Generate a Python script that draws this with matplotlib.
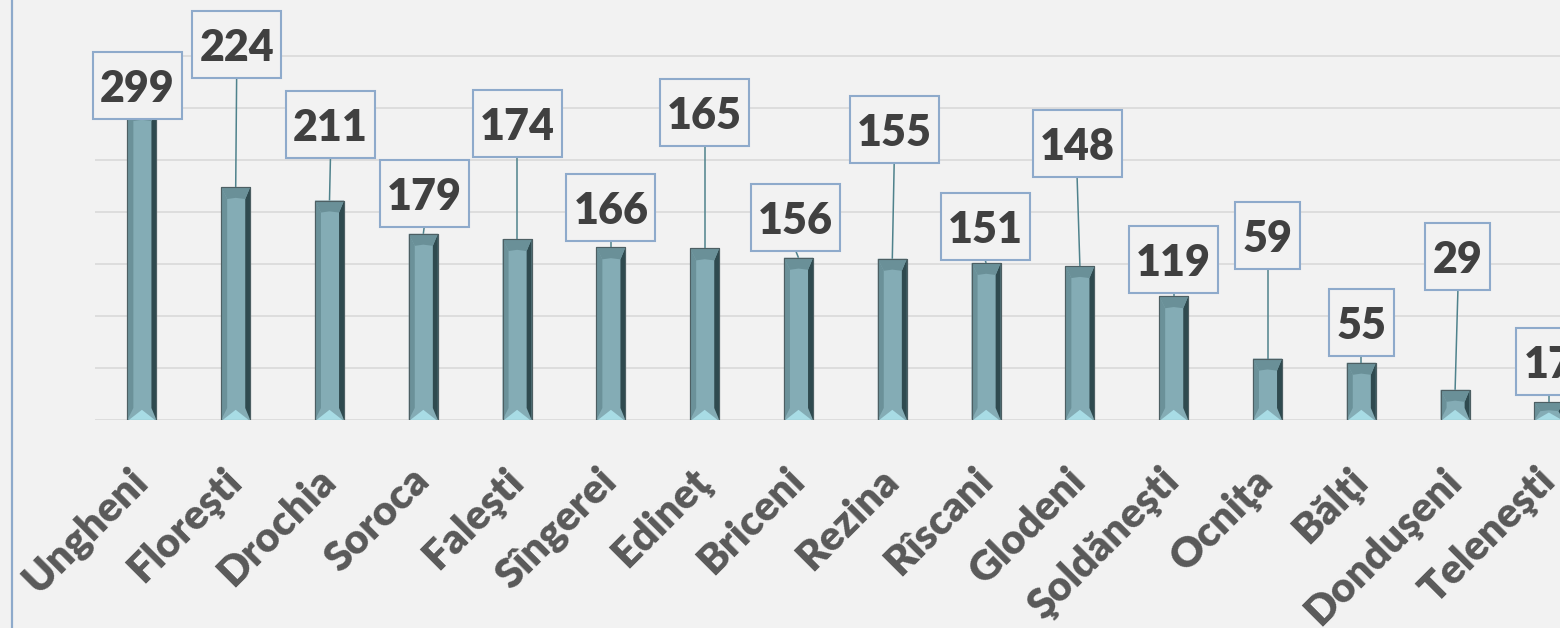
import matplotlib
matplotlib.use("Agg")
import matplotlib.pyplot as plt
from matplotlib.patches import Polygon, Rectangle
from matplotlib.lines import Line2D
from matplotlib.transforms import ScaledTranslation

# --- data ---
districts = ["Ungheni", "Floreşti", "Drochia", "Soroca", "Faleşti", "Sîngerei",
             "Edineţ", "Briceni", "Rezina", "Rîscani", "Glodeni", "Şoldăneşti",
             "Ocniţa", "Bălţi", "Donduşeni", "Teleneşti"]
values = [299, 224, 211, 179, 174, 166, 165, 156, 155, 151, 148, 119, 59, 55, 29, 17]

# callout placement (data units), kept apart from the values
label_y = [322, 361, 284, 218, 285, 204, 296, 195, 279, 186, 266, 154, 177, 94, 157, 56]
label_dx = [-0.05, 0.01, 0.01, 0.01, 0, 0, 0, -0.03, 0.02, -0.01, -0.03, 0, 0, 0, 0.03, 0]

BG = "#f2f2f2"
W, H, DPI = 15.6, 6.28, 100
plt.rcParams["font.family"] = ["Lato", "DejaVu Sans"]

fig = plt.figure(figsize=(W, H), dpi=DPI, facecolor=BG)
ax_box = [95 / 1560, 208 / 628, 1465 / 1560, 416 / 628]
ax = fig.add_axes(ax_box, facecolor=BG)

xlim = (-0.5, -0.5 + 1465 / 93.8)
ylim = (0, 400)
ax.set_xlim(*xlim)
ax.set_ylim(*ylim)

# pixels per data unit, from the axes layout
ppx = ax_box[2] * W * DPI / (xlim[1] - xlim[0])
ppy = ax_box[3] * H * DPI / (ylim[1] - ylim[0])

# gridlines
ax.set_yticks(range(0, 351, 50))
ax.yaxis.grid(True, color="#d9d9d9", lw=1.2)
ax.set_axisbelow(True)
ax.tick_params(axis="y", left=False, labelleft=False)
ax.tick_params(axis="x", bottom=False, pad=26)
for s in ax.spines.values():
    s.set_visible(False)

# bars with a bevelled look
bw = 0.31
bars = ax.bar(range(len(values)), values, width=bw, color="#84acb5",
              edgecolor="#4d5f63", linewidth=0.8, zorder=2)
for b in bars:
    x0, x1, h = b.get_x(), b.get_x() + b.get_width(), b.get_height()
    xc = (x0 + x1) / 2
    s = 6 / ppx
    sr = 5 / ppx
    hp = h * ppy
    tri = min(12, hp / 2) / ppy
    # left / right strips
    ax.add_patch(Polygon([(x0, 0), (x0 + s, tri), (x0 + s, h - tri), (x0, h)],
                         closed=True, fc="#6b9199", ec="none", zorder=3))
    ax.add_patch(Polygon([(x1, 0), (x1 - sr, tri), (x1 - sr, h - tri), (x1, h)],
                         closed=True, fc="#2f4a4f", ec="none", zorder=3))
    # top and bottom facets
    ax.add_patch(Polygon([(x0, h), (x1, h), (x1 - sr, h - tri), (xc, h - tri * 0.9),
                          (x0 + s, h - tri)],
                         closed=True, fc="#6a9098", ec="none", zorder=3))
    ax.add_patch(Polygon([(x0 + 1.5 / ppx, 0), (x1 - 1.5 / ppx, 0), (xc, tri * 0.85)],
                         closed=True, fc="#a8dce5", ec="none", zorder=3))
    ax.add_patch(Polygon([(x0, 0), (x1, 0), (x1, h), (x0, h)], closed=True,
                         fc="none", ec="#4d5f63", lw=0.8, zorder=4))

# callout labels: box, leader line, text
box_h = 67 / ppy
for i, v in enumerate(values):
    lx, ly = i + label_dx[i], label_y[i]
    bw_px = 24 * len(str(v)) + 17
    bwd = bw_px / ppx
    ax.add_patch(Rectangle((lx - bwd / 2, ly - box_h / 2), bwd, box_h,
                           fc=BG, ec="#8eaacb", lw=1.5, zorder=6, clip_on=False))
    if ly - box_h / 2 > v:
        ax.plot([lx, i], [ly - box_h / 2, v], color="#4f828c", lw=1.1,
                zorder=5, solid_capstyle="butt")
    ax.text(lx, ly, str(v), ha="center", va="center_baseline", fontsize=31,
            fontweight="heavy", color="#404040", zorder=7, clip_on=False)

# category labels
ax.set_xticks(range(len(districts)))
ax.set_xticklabels(districts, rotation=45, ha="right", fontsize=30,
                   fontweight="heavy", color="#595959")
off = ScaledTranslation(9.5 / 72, 0, fig.dpi_scale_trans)
for lab in ax.get_xticklabels():
    lab.set_transform(lab.get_transform() + off)

# chart-area border on the left
fig.add_artist(Line2D([12 / 1560, 12 / 1560], [0, 1], color="#8eaacb", lw=1.6,
                      transform=fig.transFigure))

fig.savefig("out.png", dpi=DPI, facecolor=BG)
